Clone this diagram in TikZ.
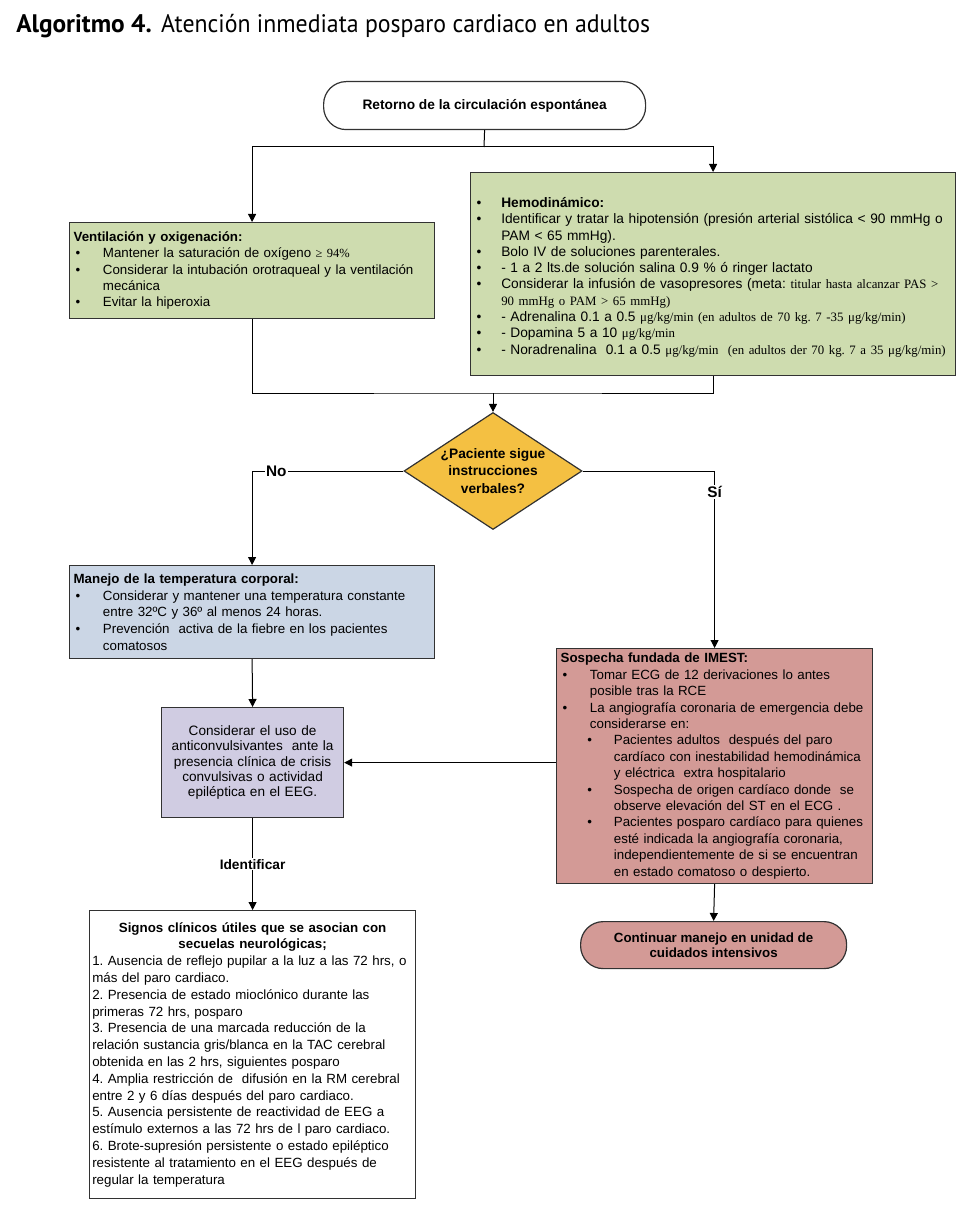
\documentclass[tikz,border=0pt]{standalone}
\usepackage{fontspec}
\setmainfont{Liberation Sans}
\newfontfamily\serifrm[Scale=0.935]{Liberation Serif}
\newfontfamily\titlebold{PT Sans}
\newfontfamily\titlereg[FakeStretch=0.94]{PT Sans}
\usetikzlibrary{shapes.geometric,arrows.meta,positioning}

\definecolor{boxgreen}{RGB}{206,220,175}
\definecolor{boxblue}{RGB}{203,214,229}
\definecolor{boxpurple}{RGB}{208,204,226}
\definecolor{boxred}{RGB}{211,154,150}
\definecolor{boxyellow}{RGB}{244,192,66}
\definecolor{edgegray}{RGB}{50,50,50}

\newlength{\bulind}
\setlength{\bulind}{22pt}
\newcommand{\itm}[1]{\par\hangindent=\bulind\hangafter=1\noindent\makebox[\bulind][l]{\hspace{1.5pt}\textbullet}#1\par}
\newcommand{\subitm}[1]{\par\hangindent=40pt\hangafter=1\noindent\hspace*{20pt}\makebox[20pt][l]{\textbullet}#1\par}

\begin{document}
\begin{tikzpicture}[x=0.75pt, y=-0.75pt,
    shp/.style={draw=edgegray, line width=0.9pt, anchor=north west, inner xsep=3pt, inner ysep=2pt},
    box/.style={shp, font=\fontsize{10}{12.3}\selectfont,
      execute at begin node={\rightskip=-20pt plus 1fil\frenchspacing}},
    term/.style={draw=edgegray, line width=0.9pt, rounded corners=17pt, align=center, anchor=north west,
      font=\bfseries\fontsize{10.3}{11}\selectfont},
    dec/.style={diamond, draw=edgegray, line width=0.9pt, fill=boxyellow, inner sep=-3pt, shape aspect=1.52,
      minimum width=133.5pt, minimum height=87.75pt, align=center,
      font=\bfseries\fontsize{10.3}{13.3}\selectfont},
    ln/.style={line width=0.75pt},
    arr/.style={line width=0.75pt, -{Triangle[length=6pt,width=6pt]}},
    lbl/.style={fill=white, inner sep=1pt, font=\bfseries\fontsize{11.5}{13}\selectfont}]
  \useasboundingbox (0,0) rectangle (976,1212);
  % Title
  \node[anchor=base west, inner sep=0pt, font=\fontsize{19}{22}\selectfont] (title) at (16,33)
    {{\titlebold\bfseries Algoritmo 4.} {\titlereg Atención inmediata posparo cardiaco en adultos}};
  % Start
  \node[term, minimum width=241.5pt, minimum height=36pt] (rce) at (323,81)
    {Retorno de la circulación espontánea};
  % First row of boxes
  \node[box, fill=boxgreen, minimum width=273.75pt, minimum height=72pt, text width=267.75pt] (vent) at (69,222)
    {\textbf{Ventilación y oxigenación:}
     \itm{Mantener la saturación de oxígeno {\serifrm ≥ 94\%}}
     \itm{Considerar la intubación orotraqueal y la ventilación\newline mecánica}
     \itm{Evitar la hiperoxia}};
  \node[box, fill=boxgreen, minimum width=363.75pt, minimum height=152.25pt, text width=357.75pt,
    font=\fontsize{10.3}{12.2}\selectfont] (hemo) at (470,172)
    {\setlength{\bulind}{20pt}%
     \itm{\textbf{Hemodinámico:}}
     \itm{Identificar y tratar la hipotensión (presión arterial sistólica < 90 mmHg o\newline PAM < 65 mmHg).}
     \itm{Bolo IV de soluciones parenterales.}
     \itm{- 1 a 2 lts.de solución salina 0.9 \% ó ringer lactato}
     \itm{Considerar la infusión de vasopresores (meta: {\serifrm titular hasta alcanzar PAS >\newline 90 mmHg o PAM > 65 mmHg)}}
     \itm{- Adrenalina 0.1 a 0.5 {\serifrm μg/kg/min (en adultos de 70 kg. 7 -35 μg/kg/min)}}
     \itm{- Dopamina 5 a 10 {\serifrm μg/kg/min}}
     \itm{- Noradrenalina~ 0.1 a 0.5 {\serifrm μg/kg/min~ (en adultos der 70 kg. 7 a 35 μg/kg/min)}}};
  % Decision
  \node[dec] (pac) at (493,471) {¿Paciente sigue\\instrucciones\\verbales?};
  % No branch
  \node[box, fill=boxblue, minimum width=273.75pt, minimum height=69.75pt, text width=267.75pt,
    font=\fontsize{10}{12.6}\selectfont] (temp) at (69,565)
    {\textbf{Manejo de la temperatura corporal:}
     \itm{Considerar y mantener una temperatura constante\newline entre 32ºC y 36º al menos 24 horas.}
     \itm{Prevención~ activa de la fiebre en los pacientes\newline comatosos}};
  \node[shp, fill=boxpurple, minimum width=136.5pt, minimum height=82.5pt, text width=130.5pt, align=center,
    font=\fontsize{10.2}{11.5}\selectfont] (anti) at (161,707)
    {Considerar el uso de\\anticonvulsivantes~ ante la\\presencia clínica de crisis\\convulsivas o actividad\\epiléptica en el EEG.};
  \node[box, fill=white, minimum width=244.5pt, minimum height=216pt, text width=240.5pt, inner xsep=1.5pt,
    font=\fontsize{10}{12.6}\selectfont] (signos) at (89,910)
    {{\centering\textbf{Signos clínicos útiles que se asocian con\\secuelas neurológicas;}\par}
     1. Ausencia de reflejo pupilar a la luz a las 72 hrs, o\\más del paro cardiaco.\\
     2. Presencia de estado mioclónico durante las\\primeras 72 hrs, posparo\\
     3. Presencia de una marcada reducción de la\\relación sustancia gris/blanca en la TAC cerebral\\obtenida en las 2 hrs, siguientes posparo\\
     4. Amplia restricción de~ difusión en la RM cerebral\\entre 2 y 6 días después del paro cardiaco.\\
     5. Ausencia persistente de reactividad de EEG a\\estímulo externos a las 72 hrs de l paro cardiaco.\\
     6. Brote-supresión persistente o estado epiléptico\\resistente al tratamiento en el EEG después de\\regular la temperatura};
  % Yes branch
  \node[box, fill=boxred, minimum width=237pt, minimum height=176.25pt, text width=231pt] (imest) at (556,648)
    {\textbf{Sospecha fundada de IMEST:}
     \itm{Tomar ECG de 12 derivaciones lo antes\newline posible tras la RCE}
     \itm{La angiografía coronaria de emergencia debe\newline considerarse en:}
     \subitm{Pacientes adultos~ después del paro\newline cardíaco con inestabilidad hemodinámica\newline y eléctrica~ extra hospitalario}
     \subitm{Sospecha de origen cardíaco donde~ se\newline observe elevación del ST en el ECG .}
     \subitm{Pacientes posparo cardíaco para quienes\newline esté indicada la angiografía coronaria,\newline independientemente de si se encuentran\newline en estado comatoso o despierto.}};
  \node[term, fill=boxred, minimum width=199.5pt, minimum height=35.25pt, font=\bfseries\fontsize{10}{11}\selectfont] (uci) at (580,921)
    {Continuar manejo en unidad de\\cuidados intensivos};
  % Connectors
  \coordinate (split) at (484,147);
  \coordinate (merge) at (493,393);
  \draw[ln] (rce.south) -- (split);
  \draw[arr] (split) -| (vent.north);
  \draw[arr] (split) -| (hemo.north);
  \draw[ln] (vent.south) |- (merge) -| (hemo.south);
  \draw[arr] (merge) -- (pac.north);
  \draw[arr] (pac.west) -| (temp.north) node[lbl, pos=0.42] (lno) {No};
  \draw[arr] (pac.east) -| (imest.north) node[lbl, pos=0.56] (lsi) {Sí};
  \draw[arr] (temp.south) -- (anti.north);
  \draw[arr] (imest.west |- anti.east) -- (anti.east);
  \draw[arr] (anti.south) -- (signos.north) node[lbl, midway, font=\bfseries\fontsize{10.3}{12}\selectfont] (lid) {Identificar};
  \draw[arr] (imest.south) -- (uci.north);
\end{tikzpicture}
\end{document}
